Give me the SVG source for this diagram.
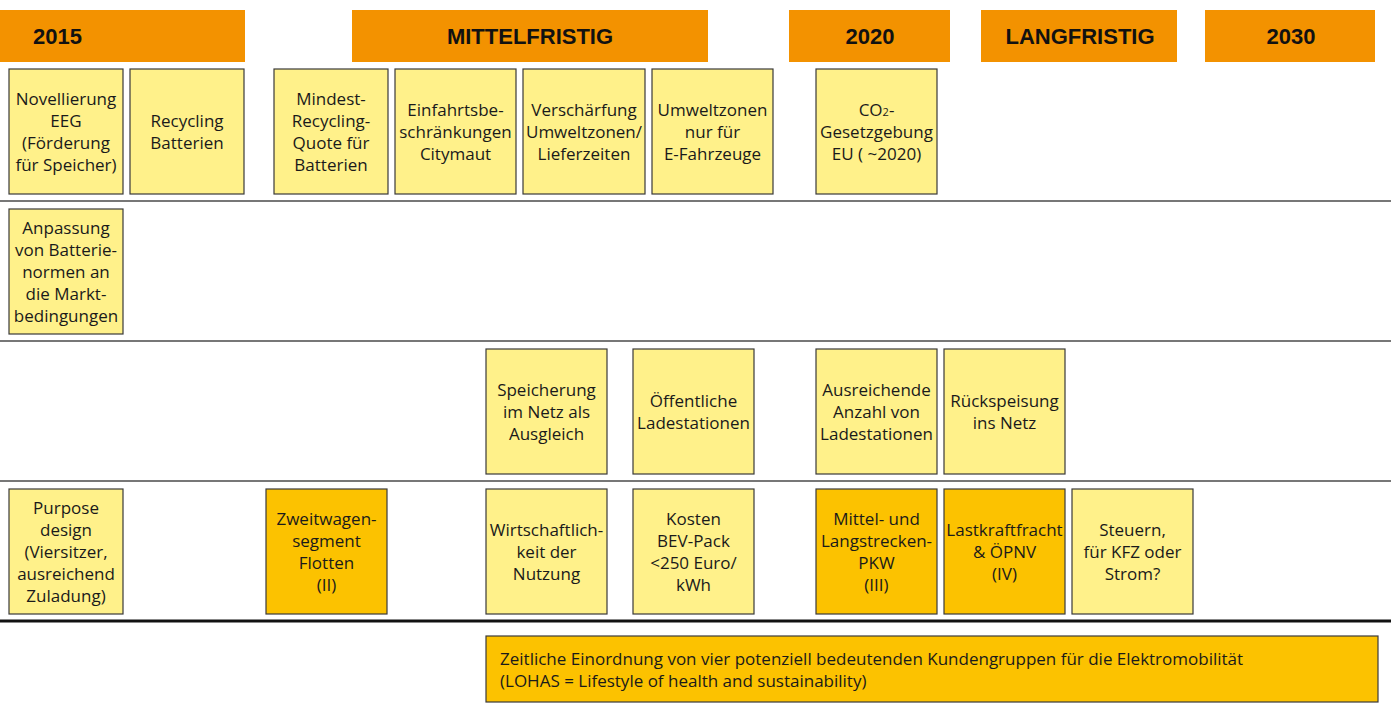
<svg xmlns="http://www.w3.org/2000/svg" width="1391" height="713" viewBox="0 0 1391 713">
<style>
.hdr{fill:#F39200}
.ht{font-family:"Liberation Sans",Arial,sans-serif;font-weight:bold;font-size:22px;fill:#111}
.by{fill:#FFF18A;stroke:#3a3a3a;stroke-width:1.2}
.bo{fill:#FCC200;stroke:#3a3a3a;stroke-width:1.2}
.t{font-family:"Open Sans","Liberation Sans",sans-serif;font-size:17px;fill:#1a1a1a;text-anchor:middle}
.lt{font-family:"Open Sans","Liberation Sans",sans-serif;font-size:17px;fill:#1a1a1a}
.sep{stroke:#777;stroke-width:2}
.sepb{stroke:#111;stroke-width:3}
</style>
<rect width="1391" height="713" fill="#fff"/>
<g id="headers">
<g id="h2015"><rect class="hdr" x="0" y="10" width="245" height="52"/><text class="ht" x="33" y="44">2015</text></g>
<g id="hmittel"><rect class="hdr" x="352" y="10" width="356" height="52"/><text class="ht" x="530" y="44" text-anchor="middle">MITTELFRISTIG</text></g>
<g id="h2020"><rect class="hdr" x="789" y="10" width="161" height="52"/><text class="ht" x="870" y="44" text-anchor="middle">2020</text></g>
<g id="hlang"><rect class="hdr" x="981" y="10" width="196" height="52"/><text class="ht" x="1080" y="44" text-anchor="middle">LANGFRISTIG</text></g>
<g id="h2030"><rect class="hdr" x="1205" y="10" width="170" height="52"/><text class="ht" x="1291" y="44" text-anchor="middle">2030</text></g>
</g>
<g id="connectors">
<line class="sep" x1="0" y1="201" x2="1391" y2="201"/>
<line class="sep" x1="0" y1="341" x2="1391" y2="341"/>
<line class="sep" x1="0" y1="481" x2="1391" y2="481"/>
<line class="sepb" x1="0" y1="621" x2="1391" y2="621"/>
</g>
<g id="n-novellierung"><rect class="by" x="9" y="69" width="114" height="125"/><text class="t" x="66" y="104.5">Novellierung</text><text class="t" x="66" y="126.5">EEG</text><text class="t" x="66" y="148.5">(Förderung</text><text class="t" x="66" y="170.5">für Speicher)</text></g>
<g id="n-recycling"><rect class="by" x="130" y="69" width="114" height="125"/><text class="t" x="187" y="126.5">Recycling</text><text class="t" x="187" y="148.5">Batterien</text></g>
<g id="n-mindest"><rect class="by" x="274" y="69" width="114" height="125"/><text class="t" x="331" y="104.5">Mindest-</text><text class="t" x="331" y="126.5">Recycling-</text><text class="t" x="331" y="148.5">Quote für</text><text class="t" x="331" y="170.5">Batterien</text></g>
<g id="n-einfahrt"><rect class="by" x="395" y="69" width="121" height="125"/><text class="t" x="455.5" y="115.5">Einfahrtsbe-</text><text class="t" x="455.5" y="137.5">schränkungen</text><text class="t" x="455.5" y="159.5">Citymaut</text></g>
<g id="n-verschaerfung"><rect class="by" x="523" y="69" width="122" height="125"/><text class="t" x="584" y="115.5">Verschärfung</text><text class="t" x="584" y="137.5">Umweltzonen/</text><text class="t" x="584" y="159.5">Lieferzeiten</text></g>
<g id="n-umweltzonen"><rect class="by" x="652" y="69" width="121" height="125"/><text class="t" x="712.5" y="115.5">Umweltzonen</text><text class="t" x="712.5" y="137.5">nur für</text><text class="t" x="712.5" y="159.5">E-Fahrzeuge</text></g>
<g id="n-co2"><rect class="by" x="816" y="69" width="121" height="125"/><text class="t" x="876.5" y="115.5">CO<tspan font-size="11px">2</tspan>-</text><text class="t" x="876.5" y="137.5">Gesetzgebung</text><text class="t" x="876.5" y="159.5">EU ( ~2020)</text></g>
<g id="n-anpassung"><rect class="by" x="9" y="209" width="114" height="125"/><text class="t" x="66" y="233.5">Anpassung</text><text class="t" x="66" y="255.5">von Batterie-</text><text class="t" x="66" y="277.5">normen an</text><text class="t" x="66" y="299.5">die Markt-</text><text class="t" x="66" y="321.5">bedingungen</text></g>
<g id="n-speicherung"><rect class="by" x="486" y="349" width="121" height="125"/><text class="t" x="546.5" y="395.5">Speicherung</text><text class="t" x="546.5" y="417.5">im Netz als</text><text class="t" x="546.5" y="439.5">Ausgleich</text></g>
<g id="n-oeffentlich"><rect class="by" x="633" y="349" width="121" height="125"/><text class="t" x="693.5" y="406.5">Öffentliche</text><text class="t" x="693.5" y="428.5">Ladestationen</text></g>
<g id="n-ausreichend"><rect class="by" x="816" y="349" width="121" height="125"/><text class="t" x="876.5" y="395.5">Ausreichende</text><text class="t" x="876.5" y="417.5">Anzahl von</text><text class="t" x="876.5" y="439.5">Ladestationen</text></g>
<g id="n-rueckspeisung"><rect class="by" x="944" y="349" width="121" height="125"/><text class="t" x="1004.5" y="406.5">Rückspeisung</text><text class="t" x="1004.5" y="428.5">ins Netz</text></g>
<g id="n-purpose"><rect class="by" x="9" y="489" width="114" height="125"/><text class="t" x="66" y="513.5">Purpose</text><text class="t" x="66" y="535.5">design</text><text class="t" x="66" y="557.5">(Viersitzer,</text><text class="t" x="66" y="579.5">ausreichend</text><text class="t" x="66" y="601.5">Zuladung)</text></g>
<g id="n-zweitwagen"><rect class="bo" x="266" y="489" width="121" height="125"/><text class="t" x="326.5" y="524.5">Zweitwagen-</text><text class="t" x="326.5" y="546.5">segment</text><text class="t" x="326.5" y="568.5">Flotten</text><text class="t" x="326.5" y="590.5">(II)</text></g>
<g id="n-wirtschaft"><rect class="by" x="486" y="489" width="121" height="125"/><text class="t" x="546.5" y="535.5">Wirtschaftlich-</text><text class="t" x="546.5" y="557.5">keit der</text><text class="t" x="546.5" y="579.5">Nutzung</text></g>
<g id="n-kosten"><rect class="by" x="633" y="489" width="121" height="125"/><text class="t" x="693.5" y="524.5">Kosten</text><text class="t" x="693.5" y="546.5">BEV-Pack</text><text class="t" x="693.5" y="568.5">&lt;250 Euro/</text><text class="t" x="693.5" y="590.5">kWh</text></g>
<g id="n-mittel"><rect class="bo" x="816" y="489" width="121" height="125"/><text class="t" x="876.5" y="524.5">Mittel- und</text><text class="t" x="876.5" y="546.5">Langstrecken-</text><text class="t" x="876.5" y="568.5">PKW</text><text class="t" x="876.5" y="590.5">(III)</text></g>
<g id="n-lastkraft"><rect class="bo" x="944" y="489" width="121" height="125"/><text class="t" x="1004.5" y="535.5">Lastkraftfracht</text><text class="t" x="1004.5" y="557.5">&amp; ÖPNV</text><text class="t" x="1004.5" y="579.5">(IV)</text></g>
<g id="n-steuern"><rect class="by" x="1072" y="489" width="121" height="125"/><text class="t" x="1132.5" y="535.5">Steuern,</text><text class="t" x="1132.5" y="557.5">für KFZ oder</text><text class="t" x="1132.5" y="579.5">Strom?</text></g>
<g id="legend"><rect class="bo" x="486" y="636" width="892" height="66"/><text class="lt" x="500" y="665">Zeitliche Einordnung von vier potenziell bedeutenden Kundengruppen für die Elektromobilität</text><text class="lt" x="500" y="687">(LOHAS = Lifestyle of health and sustainability)</text></g>
</svg>
